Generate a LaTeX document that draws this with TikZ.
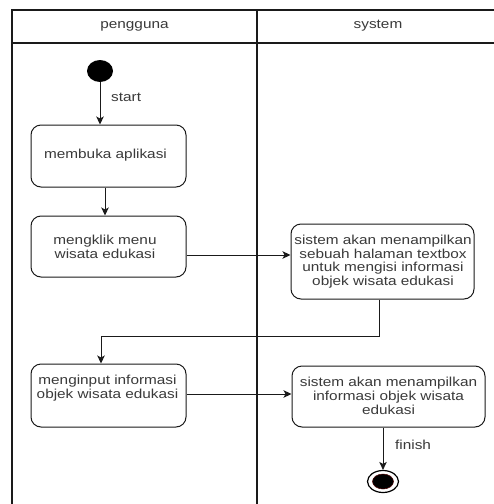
\documentclass[tikz,border=0pt]{standalone}
\usepackage{fontspec}
\setmainfont{Liberation Sans}[FakeStretch=1.18]
\usetikzlibrary{arrows.meta,shapes.geometric}
\definecolor{ink}{HTML}{1A1A1A}
\definecolor{txt}{HTML}{3A3A3A}
\begin{document}
\begin{tikzpicture}[x=1pt,y=-1pt,
  lane/.style={draw=ink,line width=1.4pt},
  act/.style={draw=ink,line width=1pt,rounded corners=10pt,inner sep=0pt,fill=white},
  words/.style={text=txt,font=\fontsize{13}{13.7}\selectfont,align=center,inner sep=0pt},
  flow/.style={draw=ink,line width=0.9pt,-{Stealth[length=8pt,width=7.5pt,inset=2pt]}},
  dot/.style={ellipse,fill=black,inner sep=0pt}]
\useasboundingbox (0,0) rectangle (494,504);
\fill[white] (0,0) rectangle (494,504);

% swimlane frame
\draw[lane] (12,504) -- (12,10) -- (494,10);
\draw[lane] (12,43) -- (494,43);
\draw[lane] (257,10) -- (257,504);
\node[words] (h1) at (134.5,26) {pengguna};
\node[words] (h2) at (378,26) {system};

% activities
\node[act,minimum width=155pt,minimum height=62pt] (b1) at (108.5,156) {};
\node[act,minimum width=155pt,minimum height=61pt] (b2) at (108.5,246.5) {};
\node[act,minimum width=183pt,minimum height=75pt] (b3) at (382.5,261.5) {};
\node[act,minimum width=155pt,minimum height=63pt] (b4) at (108.5,395.5) {};
\node[act,minimum width=193pt,minimum height=61pt] (b5) at (388.5,396.5) {};

\node[words] (t1) at (105.5,155) {membuka aplikasi};
\node[words] (t2) at (105,247) {mengklik menu\\wisata edukasi};
\node[words] (t3) at (383,261.5) {sistem akan menampilkan\\sebuah halaman textbox\\untuk mengisi informasi\\objek wisata edukasi};
\node[words] (t4) at (107.5,388) {menginput informasi\\objek wisata edukasi};
\node[words] (t5) at (388.5,396) {sistem akan menampilkan\\informasi objek wisata\\edukasi};

% initial and final states
\node[dot,minimum width=26pt,minimum height=22pt] (start) at (100,71) {};
\node[ellipse,draw=black,line width=1.2pt,fill=white,minimum width=31pt,minimum height=22pt,inner sep=0pt] (end) at (383,481.5) {};
\node[dot,draw=black!70!red,line width=0.5pt,minimum width=21pt,minimum height=15pt] (endcore) at (383,481.5) {};

% control flow
\coordinate (turn) at (0,336);
\draw[flow] (start.south) -- (start.south |- b1.north);
\draw[flow] ([xshift=-3.5pt]b1.south) -- ([xshift=-3.5pt]b2.north);
\draw[flow] ([yshift=-8.5pt]b2.east) -- ([yshift=-8.5pt]b2.east -| b3.west);
\draw[flow] ([xshift=-3.5pt]b3.south) |- ([xshift=-7.5pt]b4.north |- turn) -- ([xshift=-7.5pt]b4.north);
\draw[flow] ([yshift=1.5pt]b4.east) -- ([yshift=1.5pt]b4.east -| b5.west);
\draw[flow] (end |- b5.south) -- (end.north);

\node[words,anchor=west] (lstart) at (111,97) {start};
\node[words,anchor=west] (lfinish) at (395,445) {finish};
\end{tikzpicture}
\end{document}
